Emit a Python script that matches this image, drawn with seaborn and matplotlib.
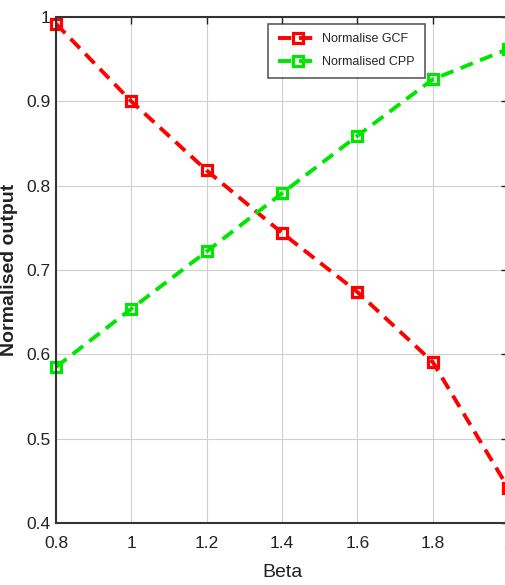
import matplotlib
matplotlib.use('Agg')
import matplotlib.pyplot as plt
import seaborn as sns
import pandas as pd

# values
beta = [0.8, 1.0, 1.2, 1.4, 1.6, 1.8, 2.0]
gcf = [0.992, 0.900, 0.818, 0.744, 0.674, 0.591, 0.442]
cpp = [0.585, 0.654, 0.722, 0.791, 0.859, 0.926, 0.962]
labels = ['Normalise GCF', 'Normalised CPP']
colors = ['#ff0000', '#00e600']

sns.set_style('white')
plt.rcParams['font.family'] = ['Liberation Sans', 'DejaVu Sans']

fig = plt.figure(figsize=(5.05, 5.85), dpi=100)
# axes spills slightly past the right edge, like the cropped original
ax = fig.add_axes([56 / 505, 1 - 523 / 585, 452 / 505, 506 / 585])

for vals, lab, col in zip([gcf, cpp], labels, colors):
    df = pd.DataFrame({'Beta': beta, 'val': vals})
    sns.lineplot(data=df, x='Beta', y='val', ax=ax, color=col, dashes=(3.4, 2.0),
                 linewidth=2.8, marker='s', markersize=7, markerfacecolor='none',
                 markeredgecolor=col, markeredgewidth=2.3, label=lab, clip_on=False)

ax.set_xlim(0.8, 2.0)
ax.set_ylim(0.4, 1.0)
ax.set_xticks([0.8, 1.0, 1.2, 1.4, 1.6, 1.8, 2.0])
ax.set_xticklabels(['0.8', '1', '1.2', '1.4', '1.6', '1.8', '2'])
ax.set_yticks([0.4, 0.5, 0.6, 0.7, 0.8, 0.9, 1.0])
ax.set_yticklabels(['0.4', '0.5', '0.6', '0.7', '0.8', '0.9', '1'])
ax.grid(True, color='#d0d0d0', linewidth=0.8)
ax.tick_params(direction='in', length=5, labelsize=12.5, colors='#222222',
               top=True, right=True, width=1)
ax.tick_params(axis='x', pad=9)
ax.tick_params(axis='y', pad=4)
for s in ax.spines.values():
    s.set_color('#333333')
    s.set_linewidth(1.5)

ax.set_xlabel('Beta', fontsize=14, labelpad=10, color='#222222')
ax.set_ylabel('Normalised output', fontsize=14, fontweight='bold', labelpad=6,
              color='#222222')

leg = ax.legend(loc='upper left', bbox_to_anchor=((265 - 56) / 452, 1 - 4 / 506),
                fontsize=9, frameon=True, fancybox=False, edgecolor='#333333',
                borderpad=0.8, handlelength=3.3, labelspacing=0.85, handletextpad=0.3,
                borderaxespad=0.2)
leg.get_frame().set_linewidth(1.2)

fig.savefig('out.png', dpi=100)
